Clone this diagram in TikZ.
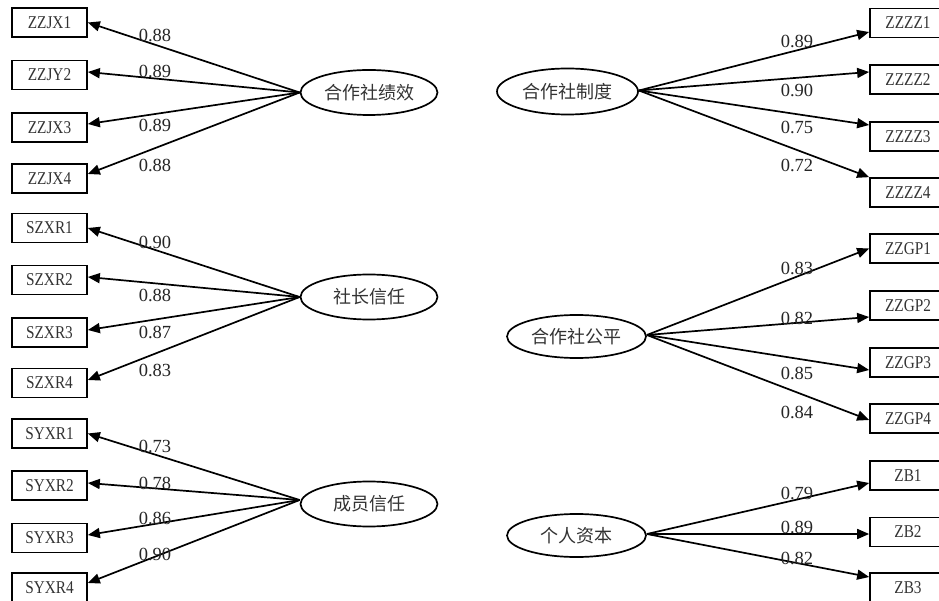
\documentclass[tikz,border=0pt]{standalone}
\usepackage{fontspec}
\setmainfont{Liberation Serif}
\newfontfamily\cjk{Noto Sans CJK SC}
\newfontfamily\boxfont[FakeStretch=0.85]{Liberation Serif}
\usetikzlibrary{shapes.geometric,arrows.meta,calc}

\tikzset{
  ind/.style={draw, line width=1.7pt, minimum width=75pt, minimum height=29pt,
              inner sep=0pt, text=black!80, font=\boxfont\fontsize{18}{18}\selectfont},
  lat/.style={ellipse, draw, line width=1.7pt, minimum width=137pt, minimum height=45pt,
              inner sep=0pt, text=black!80, font=\cjk\fontsize{18}{18}\selectfont},
  ld/.style={-{Triangle[length=12pt,width=10pt]}, line width=1.7pt},
  coef/.style={inner sep=0pt, text=black!85, font=\fontsize{18.5}{18.5}\selectfont}
}

\begin{document}
\begin{tikzpicture}[x=1pt,y=-1pt]
\clip (0,0) rectangle (939,601);
\fill[white] (0,0) rectangle (939,601);

% ---------------- left column: latent factors ----------------
\node[lat] (jx) at (369,92.5) {合作社绩效};
\node[lat] (sz) at (369,297) {社长信任};
\node[lat] (sy) at (369,504) {成员信任};

% indicators
\node[ind] (jx1) at (49.5,22.5)  {ZZJX1};
\node[ind] (jx2) at (49.5,75)    {ZZJY2};
\node[ind] (jx3) at (49.5,127.5) {ZZJX3};
\node[ind] (jx4) at (49.5,178.5) {ZZJX4};

\node[ind] (sz1) at (49.5,228)   {SZXR1};
\node[ind] (sz2) at (49.5,280)   {SZXR2};
\node[ind] (sz3) at (49.5,332.5) {SZXR3};
\node[ind] (sz4) at (49.5,383)   {SZXR4};

\node[ind] (sy1) at (49.5,433.5) {SYXR1};
\node[ind] (sy2) at (49.5,485.5) {SYXR2};
\node[ind] (sy3) at (49.5,538)   {SYXR3};
\node[ind] (sy4) at (49.5,587.5) {SYXR4};

% loadings
\draw[ld] (jx.west) -- (jx1.east);
\draw[ld] (jx.west) -- ($(jx2.east)+(0,-3)$);
\draw[ld] (jx.west) -- ($(jx3.east)+(0,-3.5)$);
\draw[ld] (jx.west) -- ($(jx4.east)+(0,-4.5)$);

\draw[ld] (sz.west) -- (sz1.east);
\draw[ld] (sz.west) -- ($(sz2.east)+(0,-3)$);
\draw[ld] (sz.west) -- ($(sz3.east)+(0,-2.5)$);
\draw[ld] (sz.west) -- ($(sz4.east)+(0,-3)$);

\coordinate (syo) at ($(sy.west)+(0,-4)$);
\draw[ld] (syo) -- (sy1.east);
\draw[ld] (syo) -- ($(sy2.east)+(0,-2.5)$);
\draw[ld] (syo) -- ($(sy3.east)+(0,-3)$);
\draw[ld] (syo) -- ($(sy4.east)+(0,-4.5)$);

\node[coef] (l1)  at (155,35)  {0.88};
\node[coef] (l2)  at (155,71)  {0.89};
\node[coef] (l3)  at (155,125) {0.89};
\node[coef] (l4)  at (155,165) {0.88};
\node[coef] (l5)  at (155,242) {0.90};
\node[coef] (l6)  at (155,295) {0.88};
\node[coef] (l7)  at (155,332) {0.87};
\node[coef] (l8)  at (155,370) {0.83};
\node[coef] (l9)  at (155,446) {0.73};
\node[coef] (l10) at (155,483) {0.78};
\node[coef] (l11) at (155,518) {0.86};
\node[coef] (l12) at (155,554) {0.90};

% ---------------- right column: latent factors ----------------
\node[lat, minimum width=141pt, minimum height=46pt] (zd) at (567.5,91.5) {合作社制度};
\node[lat, minimum width=139pt, minimum height=43pt] (gp) at (576.5,336.5) {合作社公平};
\node[lat, minimum width=139pt, minimum height=43pt] (zb) at (576.5,535.5) {个人资本};

\node[ind, minimum width=76pt] (zz1) at (908,23)    {ZZZZ1};
\node[ind, minimum width=76pt] (zz2) at (908,79.5)  {ZZZZ2};
\node[ind, minimum width=76pt] (zz3) at (908,136.5) {ZZZZ3};
\node[ind, minimum width=76pt] (zz4) at (908,192.5) {ZZZZ4};

\node[ind, minimum width=76pt] (gp1) at (908,248.5) {ZZGP1};
\node[ind, minimum width=76pt] (gp2) at (908,305.5) {ZZGP2};
\node[ind, minimum width=76pt] (gp3) at (908,362.5) {ZZGP3};
\node[ind, minimum width=76pt] (gp4) at (908,418.5) {ZZGP4};

\node[ind, minimum width=76pt] (zb1) at (908,475.5) {ZB1};
\node[ind, minimum width=76pt] (zb2) at (908,532)   {ZB2};
\node[ind, minimum width=76pt] (zb3) at (908,587.5) {ZB3};

\coordinate (zdo) at ($(zd.east)+(0,-1)$);
\draw[ld] (zdo) -- ($(zz1.west)+(0,9)$);
\draw[ld] (zdo) -- ($(zz2.west)+(0,-7.5)$);
\draw[ld] (zdo) -- ($(zz3.west)+(0,-11.5)$);
\draw[ld] (zdo) -- (zz4.north west);

\coordinate (gpo) at ($(gp.east)+(0,-1.5)$);
\draw[ld] (gpo) -- (gp1.west);
\draw[ld] (gpo) -- ($(gp2.west)+(0,11.5)$);
\draw[ld] (gpo) -- ($(gp3.west)+(0,7.5)$);
\draw[ld] (gpo) -- ($(gp4.west)+(0,1.5)$);

\coordinate (zbo) at ($(zb.east)+(0,-1.5)$);
\draw[ld] (zbo) -- ($(zb1.west)+(0,7.5)$);
\draw[ld] (zbo) -- ($(zb2.west)+(0,2)$);
\draw[ld] (zbo) -- ($(zb3.west)+(0,-10.5)$);

\node[coef] (r1)  at (797,41)  {0.89};
\node[coef] (r2)  at (797,90)  {0.90};
\node[coef] (r3)  at (797,127) {0.75};
\node[coef] (r4)  at (797,165) {0.72};
\node[coef] (r5)  at (797,268) {0.83};
\node[coef] (r6)  at (797,318) {0.82};
\node[coef] (r7)  at (797,373) {0.85};
\node[coef] (r8)  at (797,412) {0.84};
\node[coef] (r9)  at (797,493) {0.79};
\node[coef] (r10) at (797,527) {0.89};
\node[coef] (r11) at (797,558) {0.82};
\end{tikzpicture}
\end{document}
